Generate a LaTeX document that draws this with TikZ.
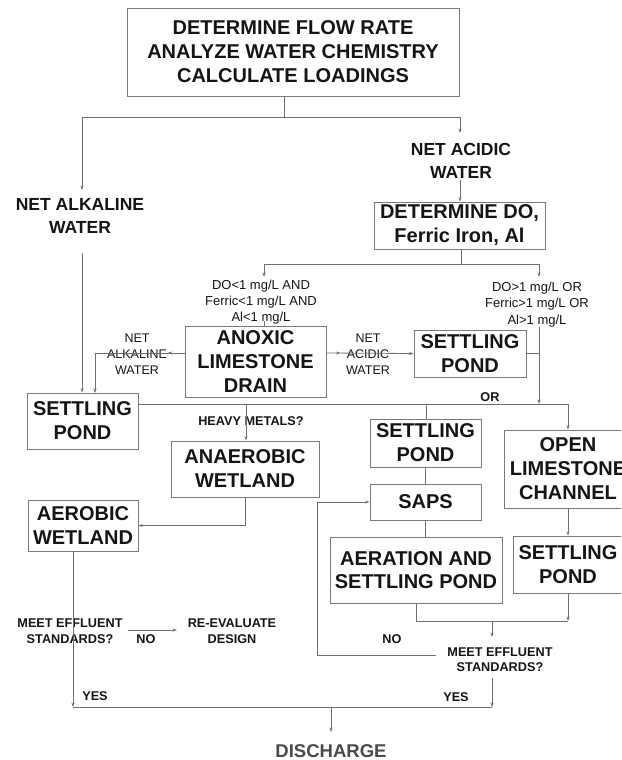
\documentclass[tikz,border=0pt]{standalone}
\usepackage{fontspec}
\setmainfont{Liberation Sans}
\usetikzlibrary{arrows.meta,decorations.markings}
\definecolor{ln}{HTML}{707070}
\definecolor{bx}{HTML}{7A7A7A}
\definecolor{tx}{HTML}{151515}
\definecolor{dg}{HTML}{4A4A4A}
\begin{document}
\begin{tikzpicture}[x=1pt,y=-1pt,
  box/.style={draw=bx,line width=0.9pt,inner sep=0pt,align=center,text=tx,font=\bfseries\fontsize{20}{24}\selectfont},
  lbl/.style={align=center,inner sep=1pt,text=tx,font=\bfseries\fontsize{17.5}{23}\selectfont},
  cond/.style={align=center,inner sep=1pt,text=tx,font=\fontsize{13}{16}\selectfont},
  small/.style={align=center,inner sep=1pt,text=tx,font=\bfseries\fontsize{12.7}{16}\selectfont},
  con/.style={color=ln,line width=0.8pt},
  arr/.style={con,-{Stealth[length=4.5pt,width=3pt]}},
  midarr/.style={decoration={markings,mark=at position #1 with {\arrow{Stealth[length=4.5pt,width=3pt]}}},postaction={decorate}},
  ]
\useasboundingbox (0,0) rectangle (621,760);
\clip (0,0) rectangle (621,760);
\fill[white] (0,0) rectangle (621,760);

% ---------- nodes ----------
\node[box,minimum width=332pt,minimum height=88pt] (top) at (293,52) {DETERMINE FLOW RATE\\ANALYZE WATER CHEMISTRY\\CALCULATE LOADINGS};
\node[lbl] (alk) at (80,216) {NET ALKALINE\\WATER};
\node[lbl] (acid) at (461,160.5) {NET ACIDIC\\WATER};
\node[box,minimum width=171pt,minimum height=47pt] (dodet) at (459.5,225.5) {DETERMINE DO,\\Ferric Iron, Al};
\node[cond] (condL) at (261,302) {DO<1 mg/L AND\\Ferric<1 mg/L AND\\Al<1 mg/L};
\node[cond,font=\fontsize{13}{16.5}\selectfont] (condR) at (537,304.5) {DO>1 mg/L OR\\Ferric>1 mg/L OR\\Al>1 mg/L};
\node[box,minimum width=141pt,minimum height=71pt] (anox) at (255.5,361.5) {ANOXIC\\LIMESTONE\\DRAIN};
\node[box,minimum width=112pt,minimum height=47pt] (spTR) at (470,353.5) {SETTLING\\POND};
\node[cond,font=\fontsize{12.5}{16}\selectfont] (alkw) at (137,354) {NET\\ALKALINE\\WATER};
\node[cond,font=\fontsize{12.5}{16}\selectfont] (acidw) at (368,354) {NET\\ACIDIC\\WATER};
\node[box,minimum width=111pt,minimum height=56pt] (spL) at (82.5,421) {SETTLING\\POND};
\node[box,minimum width=110pt,minimum height=51pt] (aerob) at (83,525.5) {AEROBIC\\WETLAND};
\node[box,minimum width=148pt,minimum height=56pt] (anaer) at (245,469) {ANAEROBIC\\WETLAND};
\node[small] (heavy) at (251,421) {HEAVY METALS?};
\node[small] (or) at (490,397) {OR};
\node[box,minimum width=111pt,minimum height=48pt] (spM) at (425.5,443) {SETTLING\\POND};
\node[box,minimum width=111pt,minimum height=36pt] (saps) at (425.5,502) {SAPS};
\node[box,minimum width=172pt,minimum height=66pt,font=\bfseries\fontsize{20}{23}\selectfont] (aer) at (416,570) {AERATION AND\\SETTLING POND};
\node[box,minimum width=128pt,minimum height=78pt] (open) at (568,469) {OPEN\\LIMESTONE\\CHANNEL};
\node[box,minimum width=110pt,minimum height=57pt] (spBR) at (568,564.5) {SETTLING\\POND};
\node[small] (meetL) at (70,631) {MEET EFFLUENT\\STANDARDS?};
\node[small] (reev) at (232,631) {RE-EVALUATE\\DESIGN};
\node[small] (noL) at (146,639) {NO};
\node[small,font=\bfseries\fontsize{12.7}{15}\selectfont] (meetR) at (500,660) {MEET EFFLUENT\\STANDARDS?};
\node[small] (noR) at (392,639) {NO};
\node[small] (yesL) at (95,696) {YES};
\node[small] (yesR) at (456,697) {YES};
\node[inner sep=1pt,text=dg,font=\bfseries\fontsize{18.5}{22}\selectfont] (dis) at (331,751) {DISCHARGE};

% ---------- coordinates ----------
\coordinate (j0) at (284,117);
\coordinate (aAlk) at (82,190);
\coordinate (aAcid) at (460,133);
\coordinate (acb) at (460,180);
\coordinate (alkb) at (82,253);
\coordinate (j1) at (461,264);
\coordinate (aL) at (264,277);
\coordinate (aR) at (539,277);
\coordinate (tL) at (264,321);
\coordinate (yA) at (0,353);
\coordinate (c95) at (95,393);
\coordinate (xR) at (539,0);
\coordinate (rT) at (539,327);
\coordinate (rB) at (539,404);
\coordinate (hR) at (568,404);
\coordinate (hA) at (246,404);
\coordinate (hM) at (426,404);
\coordinate (bR) at (568,621);
\coordinate (bM) at (492,621);
\coordinate (mT) at (492,637);
\coordinate (n1) at (436,655);
\coordinate (n2) at (317,502);
\coordinate (m1) at (492,678);
\coordinate (bRR) at (492,707);
\coordinate (bL) at (73,707);
\coordinate (dT) at (331,707);
\coordinate (dB) at (331,732);
\coordinate (r1) at (128,630);
\coordinate (r2) at (177,630);

% ---------- connectors ----------
\draw[con] (top.south -| j0) -- (j0);
\draw[arr] (j0) -| (aAlk);
\draw[arr] (j0) -| (aAcid);
\draw[arr] (acb) -- (acb |- dodet.north);
\draw[arr] (alkb) -- (alkb |- spL.north);
\draw[con] (dodet.south -| j1) -- (j1);
\draw[arr] (j1) -| (aL);
\draw[arr] (j1) -| (aR);
\draw[con] (tL) -- (tL |- anox.north);
\draw[arr,midarr=0.13] (anox.west |- yA) -| (c95);
\draw[arr,midarr=0.16] (anox.east |- yA) -- (spTR.west);
\draw[con] (spTR.east) -- (spTR.east -| xR);
\draw[arr] (rT) -- (rB);
\draw[arr] (spL.east |- hR) -- (hR) -- (open.north);
\draw[arr] (hA) -- (hA |- anaer.north);
\draw[con] (hM) -- (hM |- spM.north);
\draw[con] (spM.south) -- (saps.north);
\draw[con] (saps.south) -- (saps.south |- aer.north);
\draw[arr] (open.south) -- (spBR.north);
\draw[arr] (spBR.south) -- (bR);
\draw[con] (aer.south) |- (bR);
\draw[arr] (bM) -- (mT);
\draw[arr] (n1) -| (n2) -- (saps.west);
\draw[arr] (m1) -- (bRR);
\draw[arr] (anaer.south) |- (aerob.east);
\draw[arr] (aerob.south -| bL) -- (bL);
\draw[con] (bL) -- (bRR);
\draw[arr] (dT) -- (dB);
\draw[arr] (r1) -- (r2);
\end{tikzpicture}
\end{document}
